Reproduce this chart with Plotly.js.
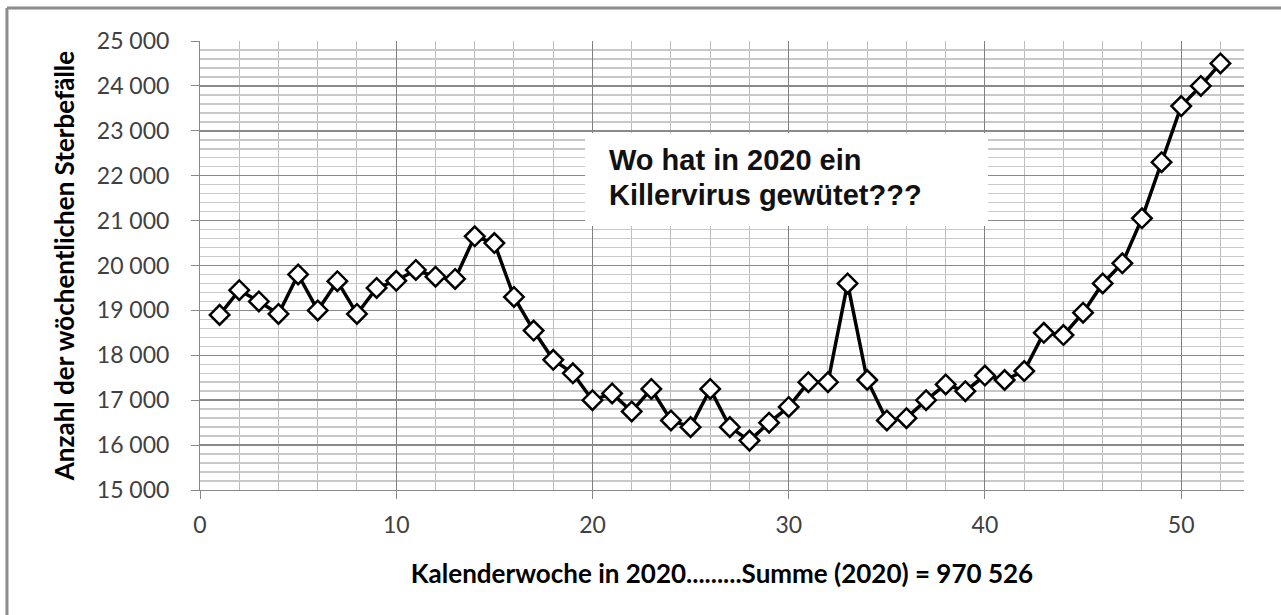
<!DOCTYPE html>
<html>
<head>
<meta charset="utf-8">
<script src="https://cdn.plot.ly/plotly-3.0.1.min.js"></script>
<style>
html,body{margin:0;padding:0;background:#fff;}
#chart{width:1281px;height:615px;}
</style>
</head>
<body>
<div id="chart"></div>
<script>
// Kalenderwoche 2020 (weeks)
const weeks = [1,2,3,4,5,6,7,8,9,10,11,12,13,14,15,16,17,18,19,20,21,22,23,24,25,26,
               27,28,29,30,31,32,33,34,35,36,37,38,39,40,41,42,43,44,45,46,47,48,49,50,51,52];
// weekly deaths
const deaths = [18900,19450,19200,18920,19800,19000,19650,18920,19500,19660,19900,19750,19700,20650,20500,
                19300,18550,17900,17600,17000,17150,16750,17250,16550,16400,17250,16400,16100,16500,16850,
                17400,17400,19600,17450,16550,16600,17000,17350,17200,17550,17450,17650,18500,18450,18950,
                19600,20050,21050,22300,23550,24000,24500];
const yTickVals = [15000,16000,17000,18000,19000,20000,21000,22000,23000,24000,25000];
const yTickText = ["15 000","16 000","17 000","18 000","19 000","20 000","21 000","22 000","23 000","24 000","25 000"];
const xTickVals = [0,10,20,30,40,50];
const xTickText = ["0","10","20","30","40","50"];
const noteLines = ["Wo hat in 2020 ein","Killervirus gewütet???"];
const xTitle = "Kalenderwoche in 2020.........Summe (2020) = 970 526";
const yTitle = "Anzahl der wöchentlichen Sterbefälle";

const trace = {
  x: weeks, y: deaths, type: 'scatter', mode: 'lines+markers',
  line: {color: '#000', width: 3.5},
  marker: {symbol: 'diamond', size: 15, color: '#fff', line: {color: '#000', width: 2.5}},
  hoverinfo: 'x+y', showlegend: false
};

const tickFont = {family: 'Lato, sans-serif', size: 23, color: '#404040'};
const xTitleFont = {family: 'Lato, sans-serif', size: 26, color: '#000', weight: 'bold'};
const yTitleFont = {family: 'Lato, sans-serif', size: 26, color: '#000', weight: 'bold'};
const noteFont = {family: 'Liberation Sans, Arial, sans-serif', size: 29, color: '#111', weight: 'bold'};

const layout = {
  width: 1281, height: 615,
  margin: {l: 200, r: 37, t: 41, b: 125},
  paper_bgcolor: '#fff', plot_bgcolor: '#fff',
  xaxis: {
    range: [0, 53.2], tickvals: xTickVals, ticktext: xTickText,
    ticks: 'outside', ticklen: 8, tickcolor: '#888', tickwidth: 1,
    ticklabelstandoff: 6,
    showline: true, linecolor: '#888', linewidth: 1,
    showgrid: true, gridcolor: '#808080', gridwidth: 1,
    minor: {dtick: 2, tick0: 0, showgrid: true, gridcolor: '#bdbdbd', gridwidth: 1},
    zeroline: false, tickfont: tickFont,
    title: {text: xTitle, font: xTitleFont, standoff: 28}
  },
  yaxis: {
    range: [15000, 25000], tickvals: yTickVals, ticktext: yTickText,
    ticks: 'outside', ticklen: 8, tickcolor: '#888', tickwidth: 1,
    ticklabelstandoff: 17,
    showline: true, linecolor: '#888', linewidth: 1,
    showgrid: true, gridcolor: '#8a8a8a', gridwidth: 1.5,
    minor: {dtick: 200, tick0: 15000, showgrid: true, gridcolor: '#c8c8c8', gridwidth: 1.5},
    zeroline: false, tickfont: tickFont,
    title: {text: yTitle, font: yTitleFont, standoff: 14}
  },
  shapes: [
    {type: 'rect', xref: 'paper', yref: 'paper', x0: 0.3688, x1: 0.7548, y0: 0.588, y1: 0.795,
     fillcolor: '#fff', line: {width: 0}, layer: 'above'},
    {type: 'line', xref: 'paper', yref: 'paper', x0: -0.1849, x1: 1.04, y0: 1.0735, y1: 1.0735,
     line: {color: '#8c8c8c', width: 3}},
    {type: 'line', xref: 'paper', yref: 'paper', x0: -0.1849, x1: -0.1849, y0: 1.0735, y1: -0.3,
     line: {color: '#8c8c8c', width: 3}}
  ],
  annotations: [
    {xref: 'paper', yref: 'paper', x: 0.3898, y: 0.7355, xanchor: 'left', yanchor: 'middle',
     text: noteLines[0], showarrow: false, font: noteFont},
    {xref: 'paper', yref: 'paper', x: 0.3898, y: 0.658, xanchor: 'left', yanchor: 'middle',
     text: noteLines[1], showarrow: false, font: noteFont}
  ]
};

Plotly.newPlot('chart', [trace], layout, {displayModeBar: false, staticPlot: true});
</script>
</body>
</html>
